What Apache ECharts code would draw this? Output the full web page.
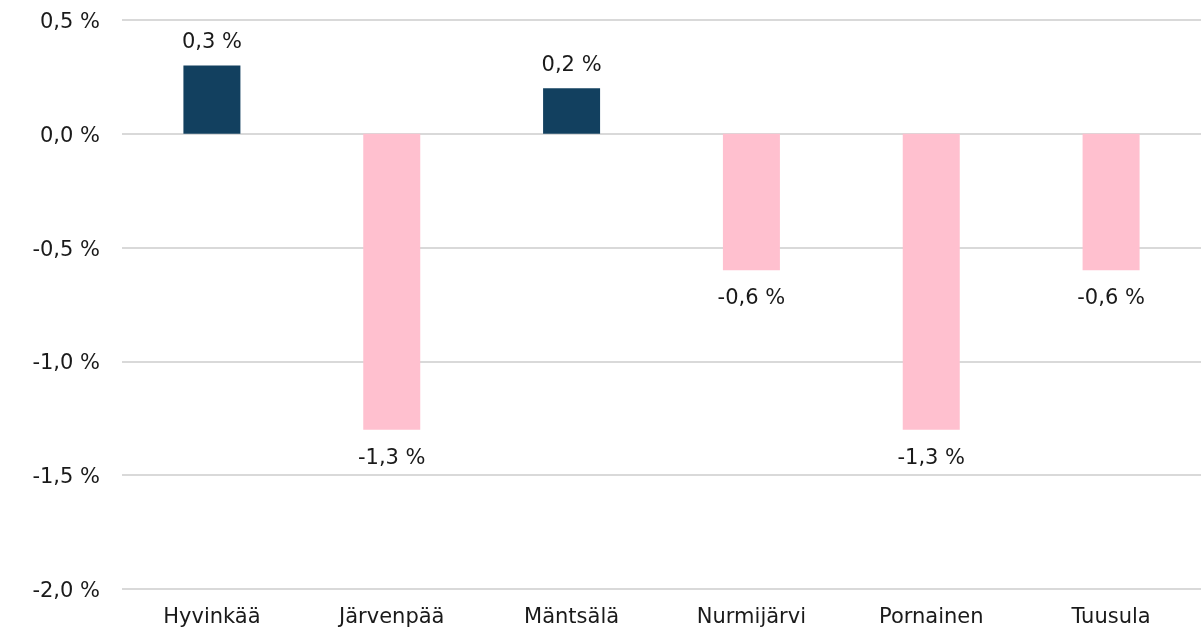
<!DOCTYPE html>
<html>
<head>
<meta charset="utf-8">
<script src="https://cdn.jsdelivr.net/npm/echarts@6/dist/echarts.min.js"></script>
<style>
html,body{margin:0;padding:0;background:#fff;}
#chart{width:1201px;height:630px;}
</style>
</head>
<body>
<div id="chart"></div>
<script>
const categories = ['Hyvinkää', 'Järvenpää', 'Mäntsälä', 'Nurmijärvi', 'Pornainen', 'Tuusula'];
const values = [0.3, -1.3, 0.2, -0.6, -1.3, -0.6];
const yTicks = { min: -2.0, max: 0.5, interval: 0.5 };

const fmt = v => v.toFixed(1).replace('.', ',') + ' %';
const FONT = 'DejaVu Sans';

const chart = echarts.init(document.getElementById('chart'), null, { renderer: 'canvas' });
chart.setOption({
  animation: false,
  backgroundColor: '#ffffff',
  grid: { left: 122, width: 1082, top: 20, bottom: 41, containLabel: false },
  xAxis: {
    type: 'category',
    data: categories,
    axisLine: { show: false },
    axisTick: { show: false },
    axisLabel: { color: '#1a1a1a', fontFamily: FONT, fontSize: 21, margin: 18 }
  },
  yAxis: {
    type: 'value',
    min: yTicks.min, max: yTicks.max, interval: yTicks.interval,
    axisLine: { show: false },
    axisTick: { show: false },
    splitLine: { lineStyle: { color: '#d9d9d9', width: 2 } },
    axisLabel: {
      color: '#1a1a1a', fontFamily: FONT, fontSize: 21, margin: 22,
      formatter: v => '{t|' + fmt(v) + '}',
      rich: { t: { color: '#1a1a1a', fontFamily: FONT, fontSize: 21, padding: [5, 0, 0, 0] } }
    }
  },
  series: [{
    type: 'bar',
    data: values.map(v => ({
      value: v,
      itemStyle: { color: v >= 0 ? '#12405f' : '#ffc0cf' },
      label: { position: v >= 0 ? 'top' : 'bottom', distance: v >= 0 ? 12 : 18 }
    })),
    barWidth: 57,
    label: {
      show: true,
      color: '#1a1a1a',
      fontFamily: FONT,
      fontSize: 21,
      formatter: p => fmt(p.value)
    }
  }]
});
</script>
</body>
</html>
